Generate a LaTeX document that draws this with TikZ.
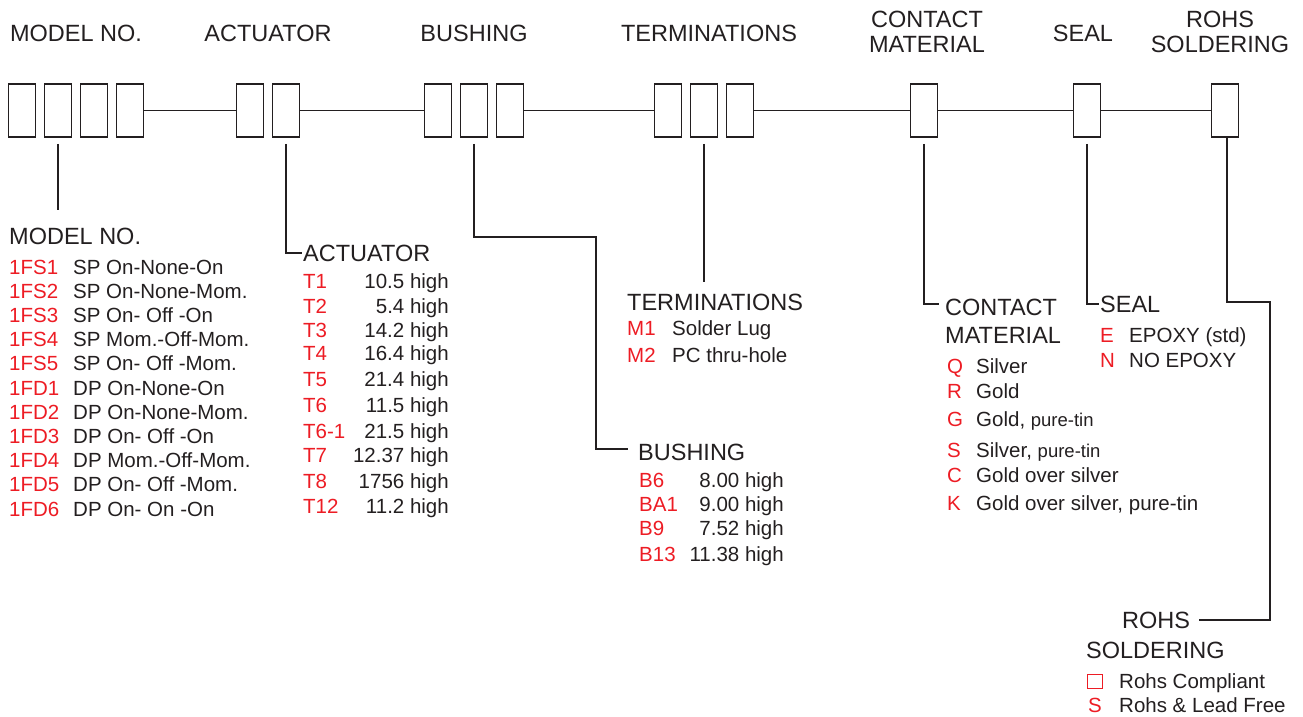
\documentclass[tikz,border=0pt]{standalone}
\usepackage{fontspec}
\setmainfont{Liberation Sans}
\definecolor{ink}{HTML}{231F20}
\definecolor{codered}{HTML}{ED1C24}
\newcommand\subtext[1]{{\fontsize{18.5}{22}\selectfont #1}}
\tikzset{
  slot/.style={draw=ink, line width=1.8pt, minimum width=27pt, minimum height=53pt, inner sep=0pt},
  head/.style={text=ink, font=\fontsize{23.5}{28}\selectfont, inner sep=0pt},
  code/.style={text=codered, font=\fontsize{20.5}{24}\selectfont, inner sep=0pt, anchor=base west},
  item/.style={text=ink, font=\fontsize{20.5}{24}\selectfont, inner sep=0pt, anchor=base west},
  lead/.style={draw=ink, line width=1.5pt}
}
\begin{document}
\begin{tikzpicture}[x=1pt, y=-1pt, line join=miter]
\useasboundingbox (0,0) rectangle (1303,716);
% code slots
\foreach \i/\x in {1/22,2/58,3/94,4/130} \node[slot] (m\i) at (\x,110.5) {};
\foreach \i/\x in {1/250,2/286} \node[slot] (a\i) at (\x,110.5) {};
\foreach \i/\x in {1/438,2/474,3/510} \node[slot] (b\i) at (\x,110.5) {};
\foreach \i/\x in {1/668,2/704,3/740} \node[slot] (t\i) at (\x,110.5) {};
\node[slot] (c1) at (924,110.5) {};
\node[slot] (s1) at (1087,110.5) {};
\node[slot] (r1) at (1225,110.5) {};
\draw[lead] (m4) -- (a1) (a2) -- (b1) (b3) -- (t1) (t3) -- (c1) (c1) -- (s1) (s1) -- (r1);
% headings over the slots
\node[head, anchor=base] (hm) at (76,41) {MODEL NO.};
\node[head, anchor=base] (ha) at (268,41) {ACTUATOR};
\node[head, anchor=base] (hb) at (474,41) {BUSHING};
\node[head, anchor=base] (ht) at (709,41) {TERMINATIONS};
\node[head, anchor=base] (hc) at (927,27) {CONTACT};
\node[head, anchor=base] (hc2) at (927,52) {MATERIAL};
\node[head, anchor=base] (hs) at (1083,41) {SEAL};
\node[head, anchor=base] (hr) at (1220,27) {ROHS};
\node[head, anchor=base] (hr2) at (1220,52) {SOLDERING};
% option titles
\node[head, anchor=base west] (mlab) at (9,244) {MODEL NO.};
\node[head, anchor=base west] (alab) at (303,261) {ACTUATOR};
\node[head, anchor=base west] (tlab) at (627,310) {TERMINATIONS};
\node[head, anchor=base west] (blab) at (638,460) {BUSHING};
\node[head, anchor=base west] (clab) at (945,315) {CONTACT};
\node[head, anchor=base west] (clab2) at (945,343) {MATERIAL};
\node[head, anchor=base west] (slab) at (1100,312) {SEAL};
\node[head, anchor=base west] (rlab) at (1122,628) {ROHS};
\node[head, anchor=base west] (rlab2) at (1086,658) {SOLDERING};
% leaders
\coordinate (bbend) at (596,237);
\coordinate (rbend) at (1270,302);
\draw[lead] ([yshift=-6pt]m2.south) -- ([yshift=17pt]m2 |- mlab.north);
\draw[lead] ([yshift=-6pt]a2.south) |- ([xshift=-1pt]alab.west);
\draw[lead] ([yshift=-6pt]b2.south) |- (bbend) |- ([xshift=-10pt,yshift=3pt]blab.west);
\draw[lead] ([yshift=-6pt]t2.south) -- ([yshift=11pt]t2 |- tlab.north);
\draw[lead] ([yshift=-6pt]c1.south) |- ([xshift=-6pt,yshift=3pt]clab.west);
\draw[lead] ([yshift=-6pt]s1.south) |- ([xshift=-1pt]slab.west);
\draw[lead] ([xshift=2pt]r1.south) |- (rbend) |- ([xshift=9pt]rlab.east);
% option lists
\foreach \c/\d [count=\i from 0] in {1FS1/SP On-None-On, 1FS2/SP On-None-Mom., 1FS3/SP On- Off -On,
  1FS4/SP Mom.-Off-Mom., 1FS5/SP On- Off -Mom., 1FD1/DP On-None-On, 1FD2/DP On-None-Mom.,
  1FD3/DP On- Off -On, 1FD4/DP Mom.-Off-Mom., 1FD5/DP On- Off -Mom., 1FD6/DP On- On -On}{
  \node[code] (mc\i) at (9,{274+24.2*\i}) {\c};
  \node[item] (md\i) at (73,{274+24.2*\i}) {\d};
}
\foreach \c/\v/\y [count=\i] in {T1/10.5/288, T2/5.4/313, T3/14.2/337, T4/16.4/360, T5/21.4/386,
  T6/11.5/412, T6-1/21.5/438, T7/12.37/462, T8/1756/488, T12/11.2/513}{
  \node[code] (ac\i) at (303,\y) {\c};
  \node[item, anchor=base east] (ad\i) at (449,\y) {\v\ high};
}
\foreach \c/\d/\y [count=\i] in {M1/Solder Lug/335, M2/PC thru-hole/362}{
  \node[code] (tc\i) at (627,\y) {\c};
  \node[item] (td\i) at (672,\y) {\d};
}
\foreach \c/\v/\y [count=\i] in {B6/8.00/487, BA1/9.00/511, B9/7.52/535, B13/11.38/561}{
  \node[code] (bc\i) at (639,\y) {\c};
  \node[item, anchor=base east] (bd\i) at (784,\y) {\v\ high};
}
\foreach \c/\d/\y [count=\i] in {Q/Silver/373, R/Gold/398, G/{Gold, \subtext{pure-tin}}/426,
  S/{Silver, \subtext{pure-tin}}/457, C/Gold over silver/482, K/{Gold over silver, pure-tin}/510}{
  \node[code] (cc\i) at (947,\y) {\c};
  \node[item] (cd\i) at (976,\y) {\d};
}
\foreach \c/\d/\y [count=\i] in {E/EPOXY (std)/342, N/NO EPOXY/367}{
  \node[code] (sc\i) at (1100,\y) {\c};
  \node[item] (sd\i) at (1129,\y) {\d};
}
\node[draw=codered, line width=1.4pt, minimum width=15pt, minimum height=14pt, inner sep=0pt] (rc1) at (1095,681.5) {};
\node[item] (rd1) at (1119,688) {Rohs Compliant};
\node[code] (rc2) at (1088,712) {S};
\node[item] (rd2) at (1119,712) {Rohs \& Lead Free};
\end{tikzpicture}
\end{document}
